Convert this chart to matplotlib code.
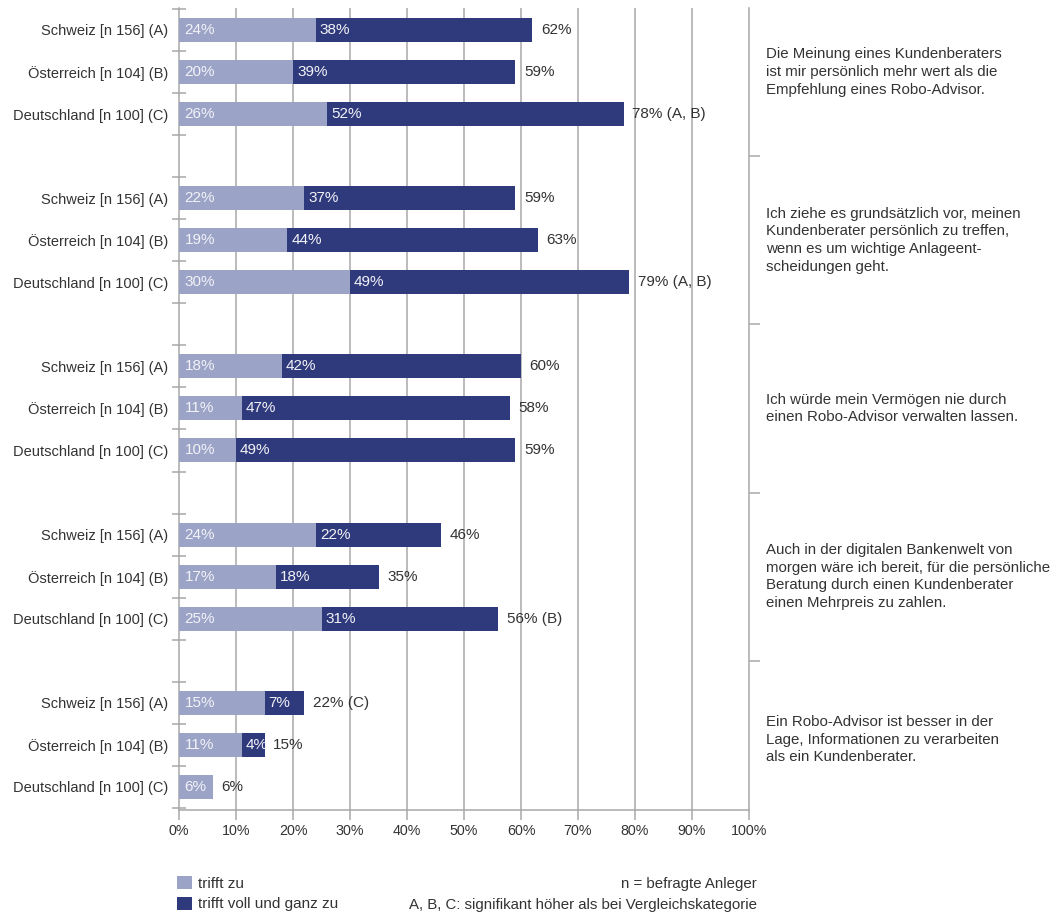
import matplotlib
matplotlib.use("Agg")
import matplotlib.pyplot as plt
from matplotlib.patches import Patch
from matplotlib.transforms import blended_transform_factory

plt.rcParams['font.family'] = ['Liberation Sans', 'DejaVu Sans']

countries = ["Schweiz [n 156] (A)", "Österreich [n 104] (B)", "Deutschland [n 100] (C)"]
statements = [
    "Die Meinung eines Kundenberaters\nist mir persönlich mehr wert als die\nEmpfehlung eines Robo-Advisor.",
    "Ich ziehe es grundsätzlich vor, meinen\nKundenberater persönlich zu treffen,\nwenn es um wichtige Anlageent-\nscheidungen geht.",
    "Ich würde mein Vermögen nie durch\neinen Robo-Advisor verwalten lassen.",
    "Auch in der digitalen Bankenwelt von\nmorgen wäre ich bereit, für die persönliche\nBeratung durch einen Kundenberater\neinen Mehrpreis zu zahlen.",
    "Ein Robo-Advisor ist besser in der\nLage, Informationen zu verarbeiten\nals ein Kundenberater.",
]
trifft_zu = [[24, 20, 26], [22, 19, 30], [18, 11, 10], [24, 17, 25], [15, 11, 6]]
trifft_voll = [[38, 39, 52], [37, 44, 49], [42, 47, 49], [22, 18, 31], [7, 4, 0]]
totals = [["62%", "59%", "78% (A, B)"],
          ["59%", "63%", "79% (A, B)"],
          ["60%", "58%", "59%"],
          ["46%", "35%", "56% (B)"],
          ["22% (C)", "15%", "6%"]]
xticks = [0, 10, 20, 30, 40, 50, 60, 70, 80, 90, 100]
xtick_labels = [f"{v}%" for v in xticks]
legend_labels = ["trifft zu", "trifft voll und ganz zu"]
notes = ["n = befragte Anleger", "A, B, C: signifikant höher als bei Vergleichskategorie"]

LIGHT = "#9ba3c7"
DARK = "#2f3a7c"
GRID = "#a8a8a8"
TXT = "#333333"
INNER = "#f2f2f7"

W, H = 1059, 917
fig = plt.figure(figsize=(W / 100, H / 100), dpi=100)
ax = fig.add_axes([179 / W, 1 - 810 / H, 570 / W, 802 / H])

rows, labels = [], []
bar_h = 0.57
for g in range(len(statements)):
    for i in range(3):
        y = g * 4 + i
        rows.append(y)
        labels.append(countries[i])
        a, b = trifft_zu[g][i], trifft_voll[g][i]
        ax.barh(y, a, height=bar_h, color=LIGHT, zorder=3)
        ax.text(1, y, f"{a}%", color=INNER, fontsize=11, va="center", ha="left", zorder=4)
        if b > 0:
            ax.barh(y, b, left=a, height=bar_h, color=DARK, zorder=3)
            ax.text(a + 0.7, y, f"{b}%", color=INNER, fontsize=11, va="center", ha="left", zorder=4)
        ax.text(a + b + 1.5, y, totals[g][i], color=TXT, fontsize=11, va="center", ha="left", zorder=4)

ax.set_xlim(0, 100)
ax.set_ylim(18.55, -0.523)

# grid
for v in xticks[1:-1]:
    ax.axvline(v, color=GRID, lw=1.1, zorder=1)

ax.set_xticks(xticks, xtick_labels)
ax.tick_params(axis="x", length=7, color=GRID, labelcolor=TXT, labelsize=10.3, pad=3, width=1.1)
ax.set_yticks(rows, labels)
ax.tick_params(axis="y", which="major", length=0, pad=8, labelcolor=TXT, labelsize=10.5)
minor = []
for g in range(len(statements)):
    minor += [g * 4 - 0.5, g * 4 + 0.5, g * 4 + 1.5, g * 4 + 2.5]
ax.set_yticks(minor, minor=True)
ax.tick_params(axis="y", which="minor", length=10, direction="inout", color=GRID, width=1.1)

for s in ["left", "bottom", "right"]:
    ax.spines[s].set_color(GRID)
    ax.spines[s].set_linewidth(1.1)
ax.spines["top"].set_visible(False)

tw = ax.twinx()
tw.set_ylim(ax.get_ylim())
tw.set_yticks([g * 4 + 3 for g in range(len(statements) - 1)])
tw.tick_params(axis="y", length=8, direction="out", color=GRID, width=1.1, labelright=False)
for s in tw.spines.values():
    s.set_visible(False)

trans = blended_transform_factory(ax.transAxes, ax.transData)
for g, s in enumerate(statements):
    ax.text(1.03, g * 4 + 1 - (0.12 if g == 4 else 0), s, transform=trans, ha="left", va="center",
            fontsize=10.8, color=TXT, linespacing=1.33)

handles = [Patch(facecolor=LIGHT), Patch(facecolor=DARK)]
fig.legend(handles, legend_labels, loc="upper left", bbox_to_anchor=(177 / W, 1 - 876 / H),
           frameon=False, fontsize=11, handlelength=1.0, handleheight=0.95,
           handletextpad=0.4, labelspacing=0.38, borderpad=0, borderaxespad=0,
           labelcolor=TXT)
fig.text(757 / W, 1 - 884 / H, notes[0], ha="right", va="center", fontsize=10.8, color=TXT)
fig.text(757 / W, 1 - 905 / H, notes[1], ha="right", va="center", fontsize=10.8, color=TXT)

fig.savefig("out.png", dpi=100)
